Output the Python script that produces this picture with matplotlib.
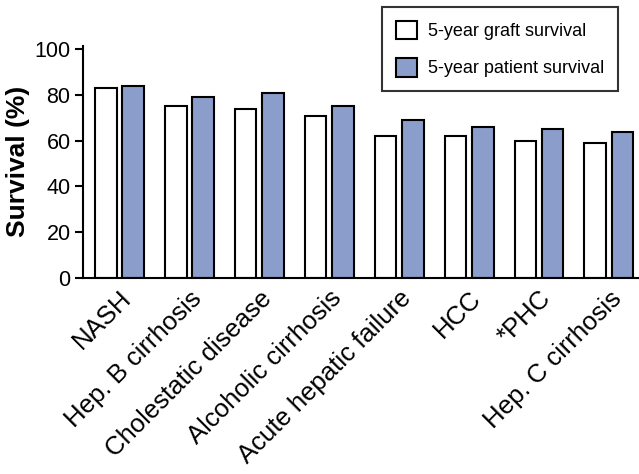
import numpy as np
import matplotlib.pyplot as plt

plt.rcParams['font.family'] = ['Liberation Sans', 'DejaVu Sans']

# -----------------------------
# DATOS
# -----------------------------
categorias = ["NASH", "Hep. B cirrhosis", "Cholestatic disease", "Alcoholic cirrhosis",
              "Acute hepatic failure", "HCC", "*PHC", "Hep. C cirrhosis"]
graft = [83, 75, 74, 71, 62, 62, 60, 59]
patient = [84, 79, 81, 75, 69, 66, 65, 64]
yticks = [0, 20, 40, 60, 80, 100]

# -----------------------------
# GRÁFICA
# -----------------------------
fig = plt.figure(figsize=(6.39, 4.74), dpi=100)
ax = fig.add_axes([0.130, 0.4135, 0.870, 0.490])

x = np.arange(len(categorias))
w = 0.31
ax.bar(x - 0.195, graft, w, color='white', edgecolor='black', linewidth=1.5,
       label='5-year graft survival')
ax.bar(x + 0.195, patient, w, color='#8b9dca', edgecolor='black', linewidth=1.5,
       label='5-year patient survival')

ax.set_xlim(-0.52, 7.43)
ax.set_ylim(0, 101.5)
ax.set_yticks(yticks)
ax.set_xticks(x)
ax.set_xticklabels(categorias, rotation=45, ha='right', rotation_mode='anchor', fontsize=18.5)
ax.tick_params(axis='y', labelsize=15.5, width=1.5, length=6, direction='out', pad=3)
ax.tick_params(axis='x', length=0, pad=6)
ax.set_ylabel("Survival (%)", fontsize=19, fontweight='bold', labelpad=3)

for s in ['top', 'right']:
    ax.spines[s].set_visible(False)
for s in ['left', 'bottom']:
    ax.spines[s].set_linewidth(1.5)

leg = fig.legend(loc='upper right', bbox_to_anchor=(0.967, 0.985), borderaxespad=0,
                 fontsize=13, frameon=True, fancybox=False, edgecolor='black',
                 handlelength=1.2, handleheight=1.2, labelspacing=1.0, borderpad=0.75,
                 handletextpad=0.6)
leg.get_frame().set_linewidth(1.5)

plt.savefig("out.png", dpi=100)
